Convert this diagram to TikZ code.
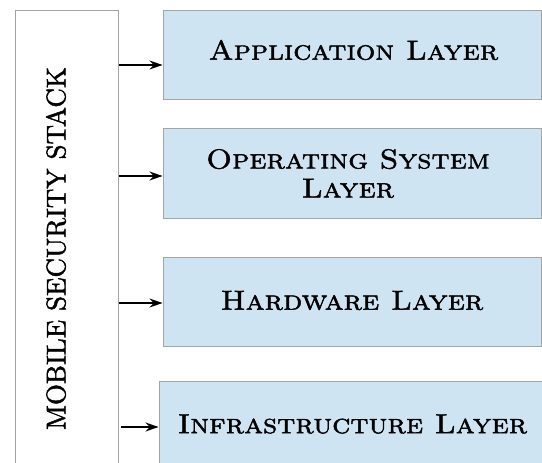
\documentclass[tikz,border=0pt]{standalone}
\usepackage{fontspec}
\usetikzlibrary{arrows.meta}
\newfontfamily\layercaps[FakeBold=1.6, FakeStretch=1.12]{lmromancaps10-regular.otf}
\newfontfamily\stackfont[FakeBold=1.6]{lmroman10-regular.otf}
\definecolor{layerfill}{HTML}{CFE4F3}
\definecolor{edgegray}{HTML}{A4A4A4}
\tikzset{
  layerbox/.style={draw=edgegray, line width=1pt, fill=layerfill, inner sep=0pt},
  stackbox/.style={draw=edgegray, line width=1pt, fill=white, inner sep=0pt},
  layertext/.style={font=\layercaps\fontsize{27.5}{30}\selectfont, inner sep=0pt, align=center},
  feed/.style={line width=1.1pt, -{Stealth[length=13pt,width=9pt]}}
}
\begin{document}
\begin{tikzpicture}[x=1pt,y=-1pt]
  \useasboundingbox (0,0) rectangle (542,463);
  \clip (0,0) rectangle (542,463);
  \fill[white] (0,0) rectangle (542,463);

  % left column holding the stack title
  \node[stackbox, minimum width=102.5pt, minimum height=470pt] (stack) at (66.75,245) {};
  \node[rotate=90, inner sep=0pt, font=\stackfont\fontsize{27}{30}\selectfont] (title) at (56,248.5) {MOBILE SECURITY STACK};

  % the four layers
  \node[layerbox, minimum width=378pt, minimum height=89pt] (b1) at (352,54.5) {};
  \node[layerbox, minimum width=378pt, minimum height=89.5pt] (b2) at (352,173.25) {};
  \node[layerbox, minimum width=378pt, minimum height=89pt] (b3) at (352,301.5) {};
  \node[layerbox, minimum width=391pt, minimum height=99pt] (b4) at (354.5,430.5) {};

  \node[layertext] (t1) at (353.5,50) {Application Layer};
  \node[layertext] (t2) at (348,173.5) {Operating System\\[-1pt] Layer};
  \node[layertext] (t3) at (352,300.5) {Hardware Layer};
  \node[layertext] (t4) at (352.5,424) {Infrastructure Layer};

  % connectors from the stack to each layer
  \draw[feed] (stack.east |- 0,65) -- (b1.west |- 0,65);
  \draw[feed] (stack.east |- 0,176) -- (b2.west |- 0,176);
  \draw[feed] (stack.east |- 0,303) -- (b3.west |- 0,303);
  \draw[feed] ([xshift=2pt]stack.east |- 0,427) -- (b4.west |- 0,427);
\end{tikzpicture}
\end{document}
